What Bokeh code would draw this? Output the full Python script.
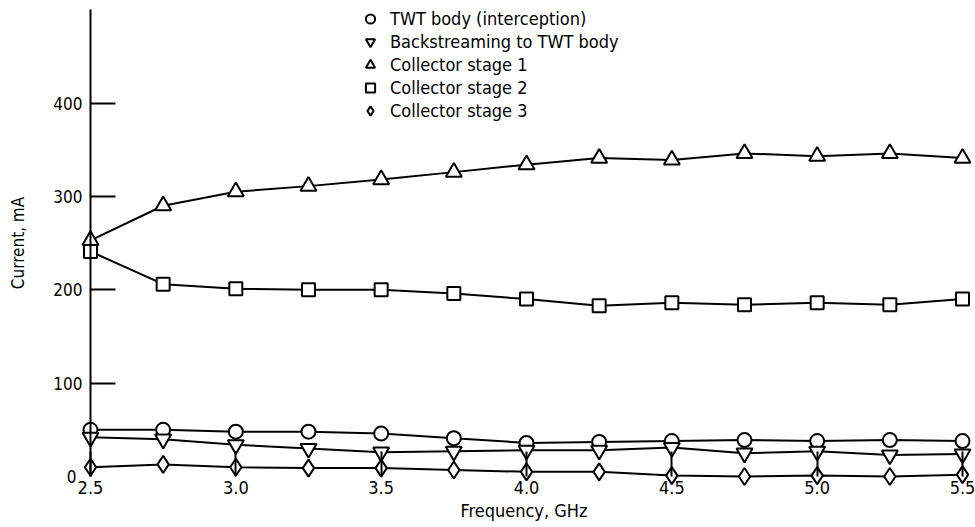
from bokeh.plotting import figure
from bokeh.models import LinearAxis, FixedTicker, Range1d, Legend, LegendItem, NumeralTickFormatter
from bokeh.embed import file_html
from bokeh.resources import INLINE

# ---- data ----
freq = [2.5, 2.75, 3.0, 3.25, 3.5, 3.75, 4.0, 4.25, 4.5, 4.75, 5.0, 5.25, 5.5]
twt_body = [50, 50, 48, 48, 46, 41, 36, 37, 38, 39, 38, 39, 38]
backstreaming = [42, 40, 34, 30, 26, 27, 28, 28, 31, 25, 27, 23, 24]
stage1 = [253, 290, 305, 311, 318, 326, 334, 341, 339, 346, 343, 346, 341]
stage2 = [241, 206, 201, 200, 200, 196, 190, 183, 186, 184, 186, 184, 190]
stage3 = [10, 13, 10, 9, 9, 7, 5, 5, 1, 0, 1, 0, 2]

x_ticks = [2.5, 3.0, 3.5, 4.0, 4.5, 5.0, 5.5]
y_ticks = [100, 200, 300, 400]
labels = ["TWT body (interception)", "Backstreaming to TWT body",
          "Collector stage 1", "Collector stage 2", "Collector stage 3"]
series = [twt_body, backstreaming, stage1, stage2, stage3]

FONT = "DejaVu Sans Condensed"

p = figure(width=975, height=527, output_backend="svg", toolbar_location=None,
           title=None,
           x_range=Range1d(2.1904, 5.5447), y_range=Range1d(-54.6, 509.8),
           x_axis_location=None, y_axis_location=None,
           min_border_left=0, min_border_right=0, min_border_top=0, min_border_bottom=0)
p.outline_line_color = None
p.background_fill_color = "white"
p.border_fill_color = "white"
p.xgrid.visible = False
p.ygrid.visible = False

# marker styles: (marker, size)
styles = [("circle", 14), ("inverted_triangle", 16), ("triangle", 16),
          ("square", 13), ("diamond", 17)]
renderers = []
for ys in series:
    p.line(freq, ys, line_color="black", line_width=2)
for ys, (m, s) in zip(series, styles):
    r = p.scatter(freq, ys, marker=m, size=s, fill_color="white",
                  line_color="black", line_width=2)
    renderers.append(r)

# x axis at y = 0
xaxis = LinearAxis(fixed_location=0, bounds=(2.5, 5.5), ticker=FixedTicker(ticks=x_ticks),
                   formatter=NumeralTickFormatter(format="0.0"),
                   axis_label="Frequency,  GHz")
xaxis.axis_line_color = None
xaxis.major_tick_in = 25
xaxis.major_tick_out = 0
xaxis.major_tick_line_width = 2
xaxis.major_tick_line_color = "black"
xaxis.minor_tick_line_color = None
xaxis.major_label_standoff = 4
xaxis.major_label_text_font = FONT
xaxis.major_label_text_font_size = "18px"
xaxis.major_label_text_color = "black"
xaxis.axis_label_text_font = FONT
xaxis.axis_label_text_font_size = "18px"
xaxis.axis_label_text_font_style = "normal"
xaxis.axis_label_text_color = "black"
xaxis.axis_label_standoff = 3
p.add_layout(xaxis, "below")

# y axis at x = 2.5
yaxis = LinearAxis(fixed_location=2.5, bounds=(0, 500), ticker=FixedTicker(ticks=y_ticks),
                   axis_label="Current, mA")
yaxis.axis_line_width = 2
yaxis.axis_line_color = "black"
yaxis.major_tick_in = 25
yaxis.major_tick_out = 0
yaxis.major_tick_line_width = 2
yaxis.major_tick_line_color = "black"
yaxis.minor_tick_line_color = None
yaxis.major_label_standoff = 8
yaxis.major_label_text_font = FONT
yaxis.major_label_text_font_size = "17px"
yaxis.major_label_text_color = "black"
yaxis.axis_label_text_font = FONT
yaxis.axis_label_text_font_size = "17px"
yaxis.axis_label_text_font_style = "normal"
yaxis.axis_label_text_color = "black"
yaxis.axis_label_standoff = 22
p.add_layout(yaxis, "left")

# "0" label without tick mark
zaxis = LinearAxis(fixed_location=2.5, ticker=FixedTicker(ticks=[0]))
zaxis.axis_line_color = None
zaxis.major_tick_line_color = None
zaxis.minor_tick_line_color = None
zaxis.major_label_standoff = 8
zaxis.major_label_text_font = FONT
zaxis.major_label_text_font_size = "17px"
zaxis.major_label_text_color = "black"
p.add_layout(zaxis, "left")

legend = Legend(items=[LegendItem(label=lab, renderers=[r]) for lab, r in zip(labels, renderers)],
                location=(358, 405))
legend.border_line_color = None
legend.background_fill_alpha = 0
legend.padding = 0
legend.margin = 0
legend.spacing = 0
legend.glyph_width = 24
legend.glyph_height = 23
legend.label_height = 23
legend.label_standoff = 8
legend.label_text_font = FONT
legend.label_text_font_size = "18px"
legend.label_text_color = "black"
p.add_layout(legend)

open("out.html", "w").write(file_html(p, INLINE))
